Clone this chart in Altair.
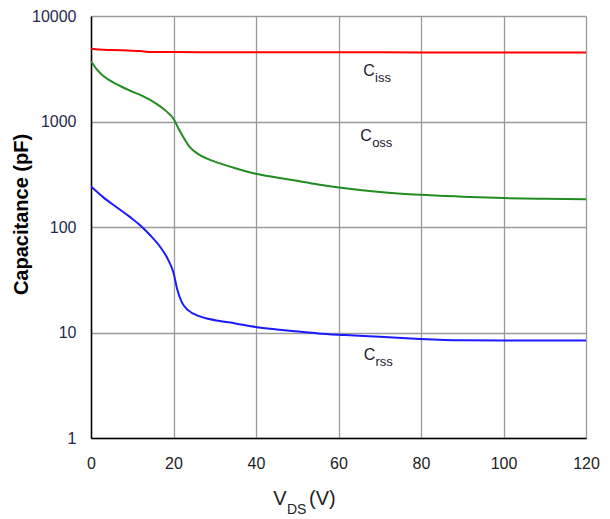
import altair as alt
import pandas as pd

# ---- data ----
ciss_v = [0, 2, 5, 9, 12, 14, 20, 30, 40, 60, 80, 100, 120]
ciss_c = [4900, 4820, 4760, 4700, 4650, 4570, 4550, 4540, 4530, 4530, 4520, 4520, 4520]

coss_v = [0, 1.4, 3.0, 6.2, 9.5, 12.7, 15.9, 18.3, 20, 21.2, 22.8, 23.8, 24.8, 26, 28, 30.9,
          35, 39.9, 45, 50.3, 55, 61.6, 70, 79.8, 90, 100, 110, 120]
coss_c = [3725, 3120, 2700, 2260, 1955, 1730, 1470, 1247, 1064, 859, 668, 580, 530, 490, 447, 405,
          360, 320, 295, 273, 253, 233, 215, 202, 194, 188, 185, 183]

crss_v = [0, 3.0, 6.2, 9.5, 11.9, 14.3, 16.7, 18.7, 20, 20.9, 22, 23.6, 26.4, 28.4, 30.9,
          35, 39.9, 45, 50.3, 55, 61.6, 70, 79.8, 90, 100, 110, 120]
crss_c = [242, 191, 154, 124, 104, 84, 65.3, 49, 36.8, 25.7, 19.4, 16.2, 14.2, 13.5, 12.9,
          12.2, 11.3, 10.7, 10.2, 9.8, 9.46, 9.1, 8.7, 8.45, 8.4, 8.4, 8.4]

series_names = ["Ciss", "Coss", "Crss"]
series_colors = ["#ff0000", "#228b22", "#1a1aff"]

label_main = ["C", "C", "C"]
label_sub = ["iss", "oss", "rss"]
label_v = [67.4, 66.7, 67.5]
label_c = [3000, 730, 6.1]

x_ticks = [0, 20, 40, 60, 80, 100, 120]
y_ticks = [1, 10, 100, 1000, 10000]

# ---- build table ----
rows = []
for name, vs, cs in zip(series_names, [ciss_v, coss_v, crss_v], [ciss_c, coss_c, crss_c]):
    for v, c in zip(vs, cs):
        rows.append({"series": name, "V": v, "C": c})
df = pd.DataFrame(rows)
labels = pd.DataFrame({"main": label_main, "sub": label_sub, "V": label_v, "C": label_c})

FONT = "Liberation Sans"

xscale = alt.Scale(domain=[0, 120], nice=False, zero=False)
yscale = alt.Scale(type="log", domain=[1, 10000], nice=False)

xaxis = alt.Axis(values=x_ticks, title=None, grid=True, gridColor="#9a9a9a", gridWidth=1.3,
                 ticks=False, tickSize=0, labelPadding=17, labelFontSize=16, labelFont=FONT,
                 labelColor="#222222", domainColor="#000000", domainWidth=1.5, labelFlush=False)
yaxis = alt.Axis(values=y_ticks, format="d", grid=True, gridColor="#9a9a9a", gridWidth=1.3,
                 ticks=False, tickSize=0, labelPadding=15, labelFontSize=16, labelFont=FONT,
                 labelColor="#1f2b4d", domainColor="#000000", domainWidth=1.5,
                 title="Capacitance (pF)", titleFont=FONT, titleFontSize=20, titleFontWeight="bold",
                 titleColor="#000000", titleAngle=270, titleAlign="center", titleBaseline="middle",
                 titleX=-70, titleY=198, labelFlush=False)

lines = alt.Chart(df).mark_line(strokeWidth=2, interpolate="monotone", clip=True).encode(
    x=alt.X("V:Q", scale=xscale, axis=xaxis),
    y=alt.Y("C:Q", scale=yscale, axis=yaxis),
    color=alt.Color("series:N", scale=alt.Scale(domain=series_names, range=series_colors), legend=None),
    detail="series:N",
)

lab_c = alt.Chart(labels).mark_text(font=FONT, fontSize=16, align="center", baseline="middle",
                                    color="#1a1a2e").encode(
    x=alt.X("V:Q", scale=xscale), y=alt.Y("C:Q", scale=yscale), text="main:N")
lab_s = alt.Chart(labels).mark_text(font=FONT, fontSize=13, align="left", baseline="middle",
                                    dx=6, dy=7, color="#1a1a2e").encode(
    x=alt.X("V:Q", scale=xscale), y=alt.Y("C:Q", scale=yscale), text="sub:N")

one = alt.Data(values=[{"k": 1}])
xt_v = alt.Chart(one).mark_text(text="V", font=FONT, fontSize=20, align="center",
                                baseline="alphabetic", color="#222222").encode(
    x=alt.value(189), y=alt.value(489))
xt_ds = alt.Chart(one).mark_text(text="DS", font=FONT, fontSize=14, align="left",
                                 baseline="alphabetic", color="#222222").encode(
    x=alt.value(196), y=alt.value(498))
xt_u = alt.Chart(one).mark_text(text="(V)", font=FONT, fontSize=20, align="left",
                                baseline="alphabetic", color="#222222").encode(
    x=alt.value(218), y=alt.value(489))

chart = alt.layer(lines, lab_c, lab_s, xt_v, xt_ds, xt_u).properties(
    width=495, height=422,
    autosize=alt.AutoSizeParams(type="none"),
    padding={"left": 83, "top": 8, "right": 16, "bottom": 79},
).configure_view(stroke=None).configure(background="#ffffff")

chart.save("out.html", embed_options={"renderer": "svg", "actions": False})
